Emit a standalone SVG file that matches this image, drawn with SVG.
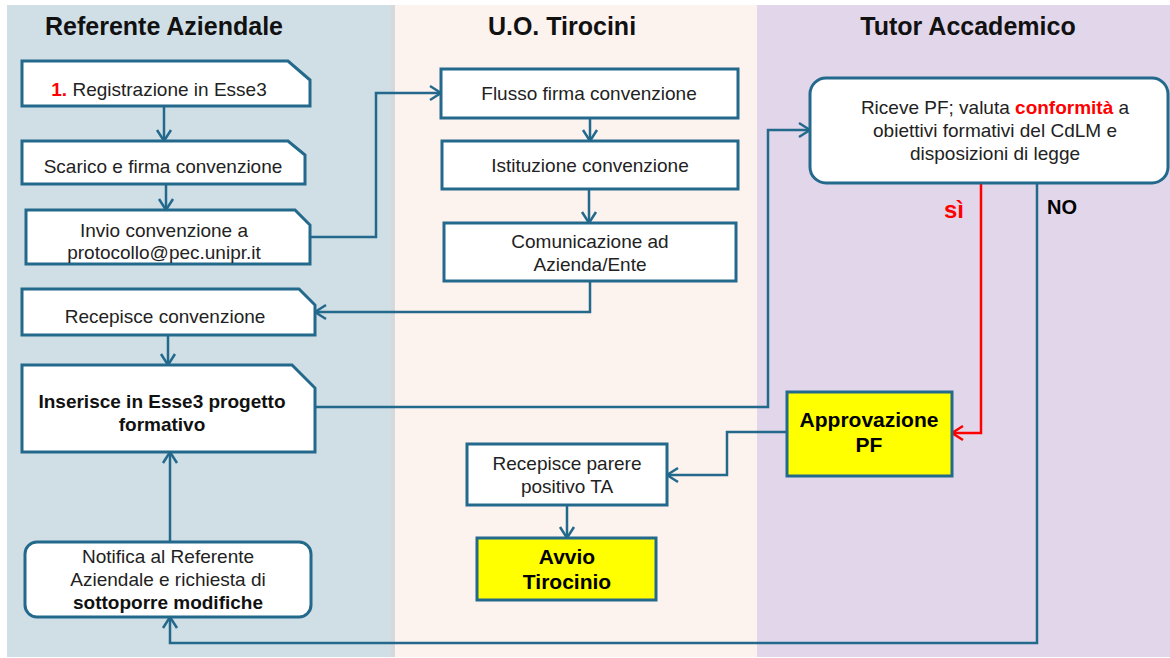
<svg xmlns="http://www.w3.org/2000/svg" width="1170" height="658" viewBox="0 0 1170 658">
<style>
.lane-t{font-family:"Liberation Sans",Arial,sans-serif;font-size:25px;font-weight:bold;fill:#111;text-anchor:middle}
.box{fill:#fff;stroke:#22698c;stroke-width:3}
.ybox{fill:#ffff00;stroke:#22698c;stroke-width:3}
.t{font-family:"Liberation Sans",Arial,sans-serif;font-size:19px;fill:#222;text-anchor:middle}
.b{font-weight:bold;fill:#111}
.big{font-family:"Liberation Sans",Arial,sans-serif;font-size:21px;font-weight:bold;fill:#000;text-anchor:middle}
.red{fill:#ff0000;font-weight:bold}
.c{fill:none;stroke:#22698c;stroke-width:2.5}
.cr{fill:none;stroke:#ff0000;stroke-width:2.5}
</style>
<defs>
<marker id="ah" markerUnits="userSpaceOnUse" markerWidth="16" markerHeight="18" viewBox="0 0 16 18" refX="13" refY="9" orient="auto">
<path d="M2,2 L13,9 L2,16" fill="none" stroke="#22698c" stroke-width="2.5"/>
</marker>
<marker id="ahr" markerUnits="userSpaceOnUse" markerWidth="16" markerHeight="18" viewBox="0 0 16 18" refX="13" refY="9" orient="auto">
<path d="M2,2 L13,9 L2,16" fill="none" stroke="#ff0000" stroke-width="2.5"/>
</marker>
</defs>
<rect x="0" y="0" width="1170" height="658" fill="#fff"/>
<g id="lanes">
<rect x="7" y="5" width="386" height="652" fill="#d0dee6"/>
<rect x="391" y="5" width="4" height="652" fill="#d6d9dc"/>
<rect x="395" y="5" width="362" height="652" fill="#fcf2ee"/>
<rect x="757" y="5" width="413" height="652" fill="#e2d6eb"/>
<text class="lane-t" x="164" y="35">Referente Aziendale</text>
<text class="lane-t" x="562" y="35">U.O. Tirocini</text>
<text class="lane-t" x="968" y="35">Tutor Accademico</text>
</g>
<g id="connectors">
<path class="c" d="M164,106 V141" marker-end="url(#ah)"/>
<path class="c" d="M166,184 V210" marker-end="url(#ah)"/>
<path class="c" d="M310,237 H376 V93 H441" marker-end="url(#ah)"/>
<path class="c" d="M590,118 V141" marker-end="url(#ah)"/>
<path class="c" d="M589,189 V223" marker-end="url(#ah)"/>
<path class="c" d="M590,281 V312 H315" marker-end="url(#ah)"/>
<path class="c" d="M168,335 V365" marker-end="url(#ah)"/>
<path class="c" d="M315,407 H768 V130 H810" marker-end="url(#ah)"/>
<path class="cr" d="M981,183 V433 H952" marker-end="url(#ahr)"/>
<path class="c" d="M787,432 H727 V475 H667" marker-end="url(#ah)"/>
<path class="c" d="M567,505 V538" marker-end="url(#ah)"/>
<path class="c" d="M1037,183 V643 H170 V617" marker-end="url(#ah)"/>
<path class="c" d="M170,542 V452" marker-end="url(#ah)"/>
<text x="954" y="218" font-family="Liberation Sans, Arial, sans-serif" font-size="24" font-weight="bold" fill="#ff0000" text-anchor="middle">sì</text>
<text x="1062" y="214" font-family="Liberation Sans, Arial, sans-serif" font-size="20" font-weight="bold" fill="#000" text-anchor="middle">NO</text>
</g>
<g id="n-registrazione">
<path class="box" d="M22,61 H288 L310,80 V106 H22 Z"/>
<text class="t" x="159" y="96"><tspan class="red">1.</tspan> Registrazione in Esse3</text>
</g>
<g id="n-scarico">
<path class="box" d="M22,141 H288 L305,155 V184 H22 Z"/>
<text class="t" x="163" y="173">Scarico e firma convenzione</text>
</g>
<g id="n-invio">
<path class="box" d="M26,210 H295 L310,225 V264 H26 Z"/>
<text class="t" x="164" y="237">Invio convenzione a</text>
<text class="t" x="164" y="259">protocollo@pec.unipr.it</text>
</g>
<g id="n-recepisce-conv">
<path class="box" d="M22,289 H299 L315,305 V335 H22 Z"/>
<text class="t" x="165" y="323">Recepisce convenzione</text>
</g>
<g id="n-inserisce">
<path class="box" d="M22,365 H292 L315,388 V452 H22 Z"/>
<text class="t b" x="162" y="408">Inserisce in Esse3 progetto</text>
<text class="t b" x="162" y="431">formativo</text>
</g>
<g id="n-notifica">
<rect class="box" x="25" y="542" width="286" height="75" rx="12"/>
<text class="t" x="168" y="563">Notifica al Referente</text>
<text class="t" x="168" y="586">Aziendale e richiesta di</text>
<text class="t b" x="168" y="609">sottoporre modifiche</text>
</g>
<g id="n-flusso">
<rect class="box" x="441" y="69" width="297" height="49"/>
<text class="t" x="589" y="100">Flusso firma convenzione</text>
</g>
<g id="n-istituzione">
<rect class="box" x="442" y="141" width="296" height="48"/>
<text class="t" x="590" y="172">Istituzione convenzione</text>
</g>
<g id="n-comunicazione">
<rect class="box" x="444" y="223" width="292" height="58"/>
<text class="t" x="590" y="248">Comunicazione ad</text>
<text class="t" x="590" y="271">Azienda/Ente</text>
</g>
<g id="n-recepisce-parere">
<rect class="box" x="467" y="444" width="200" height="61"/>
<text class="t" x="567" y="470">Recepisce parere</text>
<text class="t" x="567" y="493">positivo TA</text>
</g>
<g id="n-avvio">
<rect class="ybox" x="477" y="538" width="179" height="62"/>
<text class="big" x="567" y="564">Avvio</text>
<text class="big" x="567" y="589">Tirocinio</text>
</g>
<g id="n-riceve">
<rect class="box" x="810" y="78" width="358" height="105" rx="16"/>
<text class="t" x="995" y="114">Riceve PF; valuta <tspan class="red">conformità</tspan> a</text>
<text class="t" x="995" y="137">obiettivi formativi del CdLM e</text>
<text class="t" x="995" y="160">disposizioni di legge</text>
</g>
<g id="n-approvazione">
<rect class="ybox" x="787" y="392" width="165" height="84"/>
<text class="big" x="869" y="427">Approvazione</text>
<text class="big" x="869" y="452">PF</text>
</g>
</svg>
